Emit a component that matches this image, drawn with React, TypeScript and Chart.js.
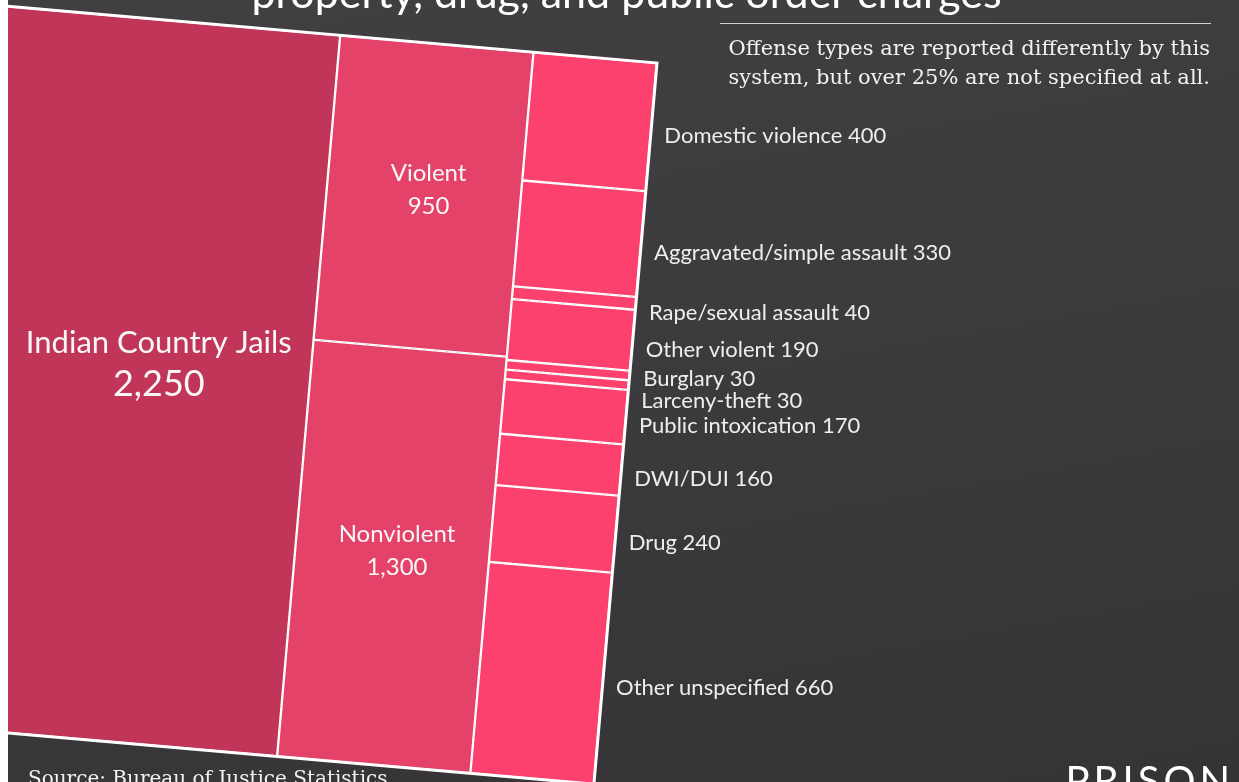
import React, { useEffect, useRef } from "react";
import { Chart, registerables } from "chart.js";

Chart.register(...registerables);

// ---------------- data ----------------
const totalLabels = ["Indian Country Jails"];
const totalValues = [2250];
const groupLabels = ["Violent", "Nonviolent"];
const groupValues = [950, 1300];
const offenseLabels = [
  "Domestic violence",
  "Aggravated/simple assault",
  "Rape/sexual assault",
  "Other violent",
  "Burglary",
  "Larceny-theft",
  "Public intoxication",
  "DWI/DUI",
  "Drug",
  "Other unspecified",
];
const offenseValues = [400, 330, 40, 190, 30, 30, 170, 160, 240, 660];
const axisMax = 2250;

const titleText = "property, drug, and public order charges";
const noteLines = [
  "Offense types are reported differently by this",
  "system, but over 25% are not specified at all.",
];
const sourceText = "Source: Bureau of Justice Statistics";
const logoText = "PRISON";

// ---------------- layout / style ----------------
const W = 1231;
const H = 800;
const VIEW_H = 782;
const TILT = (5 * Math.PI) / 180;
const FONT = "Lato, 'Open Sans', sans-serif";
const columnWidths = [345, 194, 124]; // left to right, in x-axis units (1 unit = 1 px)
const columnColors = ["#c13559", "#e5426a", "#fd416f"];
const innerStyle = [
  { nameSize: 31, valueSize: 36, gap: 42, dx: 22, dy: -17 },
  { nameSize: 24, valueSize: 24, gap: 33, dx: 5, dy: -6 },
];
const OUTER_GAP = 13;
const OUTER_DY = 8;
const OUTER_SPACING = 22;
const OUTER_FONT_SIZE = 22;

const columns = [
  { labels: totalLabels, values: totalValues },
  { labels: groupLabels, values: groupValues },
  { labels: offenseLabels, values: offenseValues },
];

const fmt = (v: number) => v.toLocaleString("en-US");

function floats(values: number[]): [number, number][] {
  let acc = 0;
  return values.map((v) => {
    const r: [number, number] = [acc, acc + v];
    acc += v;
    return r;
  });
}

function offsetFromRight(i: number) {
  let s = 0;
  for (let k = i + 1; k < columnWidths.length; k++) s += columnWidths[k];
  return s;
}

const totalWidth = columnWidths.reduce((a, b) => a + b, 0);

function pivotOf(chart: any) {
  return {
    x: chart.scales.x.getPixelForValue(0),
    y: chart.scales.y.getPixelForValue(0),
  };
}

function spread(ys: number[], gap: number) {
  let clusters = ys.map((y, i) => ({ idx: [i], c: y }));
  let merged = true;
  while (merged) {
    merged = false;
    for (let i = 0; i < clusters.length - 1; i++) {
      const a = clusters[i];
      const b = clusters[i + 1];
      const aBottom = a.c + ((a.idx.length - 1) / 2) * gap;
      const bTop = b.c - ((b.idx.length - 1) / 2) * gap;
      if (bTop - aBottom < gap) {
        const idx = a.idx.concat(b.idx);
        const c = idx.reduce((s, k) => s + ys[k], 0) / idx.length;
        clusters.splice(i, 2, { idx, c });
        merged = true;
        break;
      }
    }
  }
  const out: number[] = [];
  clusters.forEach((cl) =>
    cl.idx.forEach((k, m) => {
      out[k] = cl.c + (m - (cl.idx.length - 1) / 2) * gap;
    })
  );
  return out;
}

const tiltPlugin = {
  id: "tilt",
  beforeDatasetsDraw(chart: any) {
    const { ctx } = chart;
    const p = pivotOf(chart);
    ctx.save();
    ctx.translate(p.x, p.y);
    ctx.rotate(TILT);
    ctx.translate(-p.x, -p.y);
  },
  afterDatasetsDraw(chart: any) {
    const { ctx, scales } = chart;
    const left = scales.x.getPixelForValue(totalWidth);
    const right = scales.x.getPixelForValue(0);
    const top = scales.y.getPixelForValue(0);
    const bottom = scales.y.getPixelForValue(axisMax);
    ctx.lineWidth = 3;
    ctx.strokeStyle = "#ffffff";
    ctx.strokeRect(left, top, right - left, bottom - top);
    ctx.restore();

    const p = pivotOf(chart);
    const cos = Math.cos(TILT);
    const sin = Math.sin(TILT);
    const rot = (x: number, y: number) => ({
      x: p.x + (x - p.x) * cos - (y - p.y) * sin,
      y: p.y + (x - p.x) * sin + (y - p.y) * cos,
    });

    ctx.save();
    ctx.fillStyle = "#f7f7f7";
    ctx.textAlign = "center";
    ctx.textBaseline = "middle";
    [0, 1].forEach((ci) => {
      const meta = chart.getDatasetMeta(ci);
      const st = innerStyle[ci];
      meta.data.forEach((el: any, j: number) => {
        const { x, y, base } = el.getProps(["x", "y", "base"], true);
        const c = rot(x, (y + base) / 2);
        const cx = c.x + st.dx;
        const cy = c.y + st.dy;
        ctx.font = `400 ${st.nameSize}px ${FONT}`;
        ctx.fillText(columns[ci].labels[j], cx, cy - st.gap / 2);
        ctx.font = `400 ${st.valueSize}px ${FONT}`;
        ctx.fillText(fmt(columns[ci].values[j]), cx, cy + st.gap / 2);
      });
    });

    // outer labels for the last column
    const meta = chart.getDatasetMeta(2);
    const raw = meta.data.map((el: any) => {
      const { x, y, base, width } = el.getProps(["x", "y", "base", "width"], true);
      const pt = rot(x + width / 2 + OUTER_GAP, (y + base) / 2);
      return { x: pt.x, y: pt.y + OUTER_DY };
    });
    const ys = spread(raw.map((r: any) => r.y), OUTER_SPACING);
    ctx.textAlign = "left";
    ctx.fillStyle = "#eeeeee";
    ctx.font = `400 ${OUTER_FONT_SIZE}px ${FONT}`;
    raw.forEach((r: any, j: number) => {
      const yy = ys[j];
      const xx = r.x - (yy - r.y) * Math.tan(TILT);
      ctx.fillText(`${offenseLabels[j]} ${fmt(offenseValues[j])}`, xx, yy);
    });
    ctx.restore();
  },
};

export default function App() {
  const ref = useRef<HTMLCanvasElement>(null);

  useEffect(() => {
    const canvas = ref.current;
    if (!canvas) return;
    const datasets = columns.map((col, i) => {
      const center = offsetFromRight(i) + columnWidths[i] / 2;
      return {
        label: col.labels.join(" / "),
        data: floats(col.values).map((r) => ({ x: center, y: r })),
        backgroundColor: columnColors[i],
        borderColor: "#ffffff",
        borderWidth: 1.5,
        borderSkipped: false,
        clip: false,
        barThickness: (c: any) => {
          const s = c.chart && c.chart.scales && c.chart.scales.x;
          return s
            ? Math.abs(s.getPixelForValue(columnWidths[i]) - s.getPixelForValue(0))
            : columnWidths[i];
        },
      };
    });
    const chart = new Chart(canvas, {
      type: "bar",
      data: { datasets: datasets as any },
      options: {
        animation: false,
        responsive: false,
        maintainAspectRatio: false,
        layout: { padding: { top: 63, right: 582, left: 9, bottom: 13 } },
        scales: {
          x: {
            type: "linear",
            reverse: true,
            min: 0,
            max: 640,
            display: false,
            stacked: true,
            offset: false,
          },
          y: {
            type: "linear",
            reverse: true,
            min: 0,
            max: axisMax,
            display: false,
            stacked: false,
          },
        },
        plugins: {
          legend: { display: false },
          tooltip: { enabled: false },
          title: { display: false },
        },
      } as any,
      plugins: [tiltPlugin],
    });
    return () => chart.destroy();
  }, []);

  return (
    <div
      style={{
        position: "absolute",
        left: 8,
        top: 0,
        width: W,
        height: VIEW_H,
        overflow: "hidden",
        background: "linear-gradient(170deg, #413f41 0%, #3b3a3c 50%, #353336 100%)",
      }}
    >
      <canvas
        ref={ref}
        width={W}
        height={H}
        style={{ position: "absolute", left: 0, top: 0, width: W, height: H }}
      />
      <div
        style={{
          position: "absolute",
          left: 3,
          top: -34,
          width: W,
          textAlign: "center",
          fontFamily: FONT,
          fontSize: 43,
          lineHeight: "52px",
          color: "#ffffff",
          whiteSpace: "nowrap",
        }}
      >
        {titleText}
      </div>
      <div
        style={{
          position: "absolute",
          left: 712,
          top: 23,
          width: 491,
          height: 1,
          background: "#cfcfcf",
        }}
      />
      <div
        style={{
          position: "absolute",
          right: 29,
          top: 34,
          textAlign: "right",
          fontFamily: "'DejaVu Serif', Georgia, serif",
          fontSize: 21,
          lineHeight: "29px",
          color: "#f2f2f2",
          whiteSpace: "nowrap",
        }}
      >
        {noteLines.map((l, i) => (
          <div key={i}>{l}</div>
        ))}
      </div>
      <div
        style={{
          position: "absolute",
          left: 20,
          top: 766,
          fontFamily: "'DejaVu Serif', Georgia, serif",
          fontSize: 20,
          lineHeight: "24px",
          color: "#f2f2f2",
          whiteSpace: "nowrap",
        }}
      >
        {sourceText}
      </div>
      <div
        style={{
          position: "absolute",
          right: 5,
          top: 760,
          fontFamily: FONT,
          fontWeight: 400,
          fontSize: 40,
          lineHeight: "40px",
          letterSpacing: 4,
          color: "#ffffff",
          whiteSpace: "nowrap",
        }}
      >
        {logoText}
      </div>
    </div>
  );
}
